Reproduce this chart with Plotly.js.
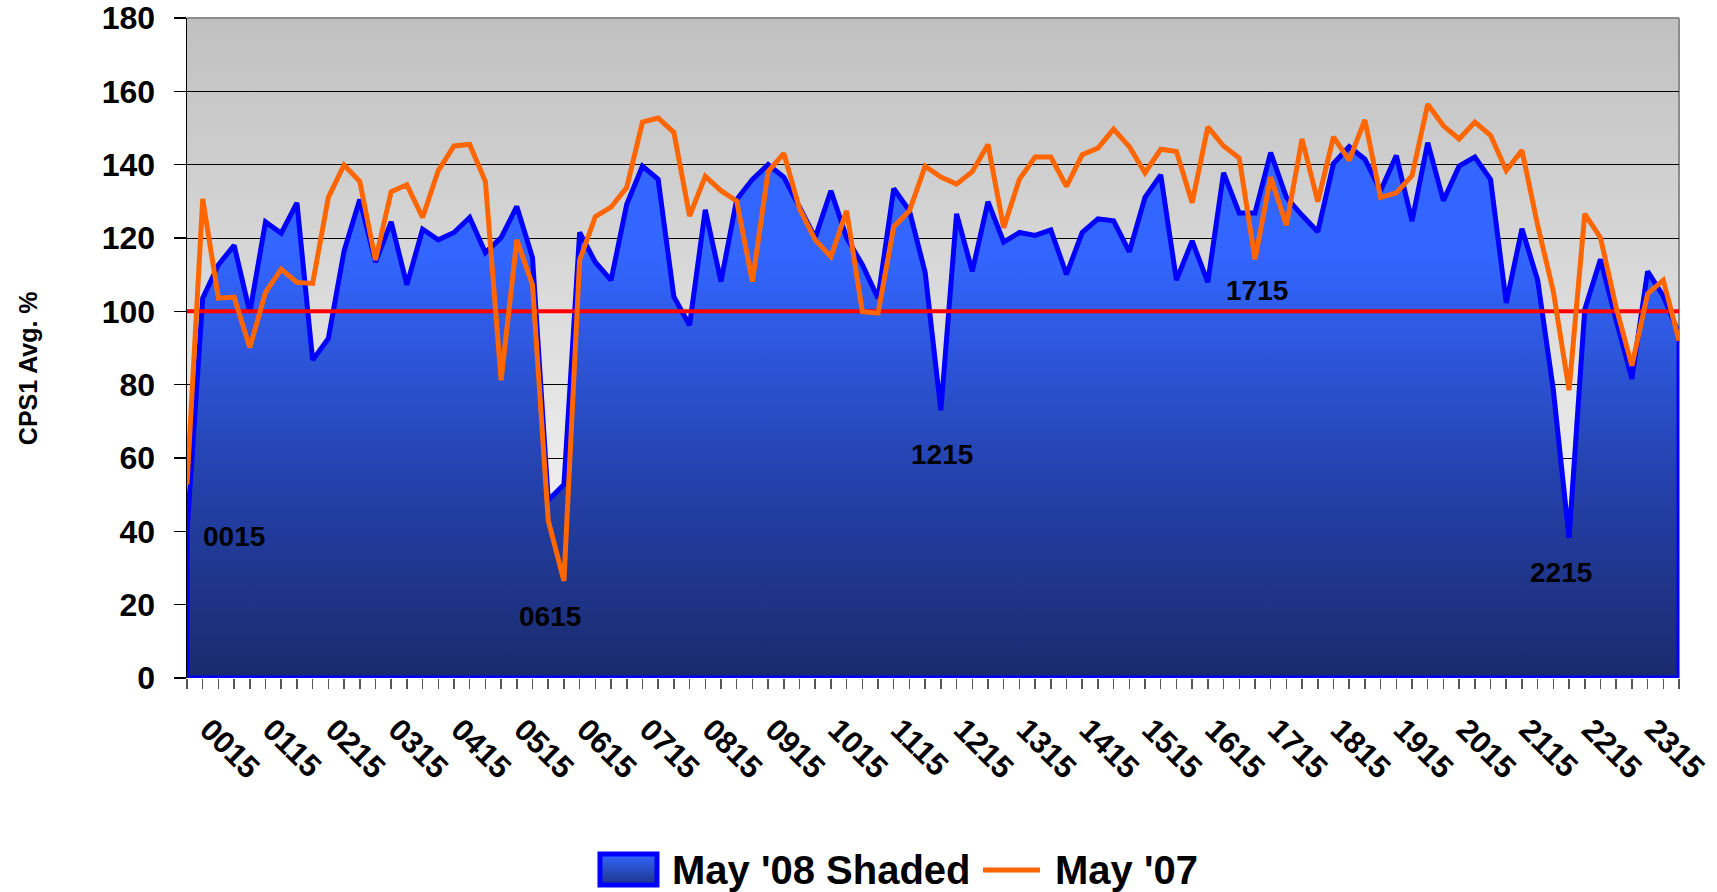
<!DOCTYPE html>
<html>
<head>
<meta charset="utf-8">
<script src="https://cdn.plot.ly/plotly-3.0.1.min.js"></script>
<style>
  html, body { margin: 0; padding: 0; background: #ffffff; }
  #chart { width: 1717px; height: 892px; }
</style>
</head>
<body>
<div id="chart"></div>
<script>
// ---- Data (15-minute intervals, first slot = 0015) ----
const hourLabels = ['0015','0115','0215','0315','0415','0515','0615','0715','0815','0915','1015','1115',
                    '1215','1315','1415','1515','1615','1715','1815','1915','2015','2115','2215','2315'];

const may08 = [40, 103.6, 112.7, 118.0, 99.7, 124.4, 121.3, 129.6, 86.7, 92.6, 116.4, 130.5,
  113.4, 124.4, 107.2, 122.4, 119.5, 121.5, 125.6, 116.0, 120.1, 128.6, 114.6, 48.5,
  52.8, 121.5, 113.4, 108.5, 129.2, 139.6, 136.0, 104.0, 96.2, 127.7, 108.1, 130.5,
  136.0, 140.0, 136.6, 128.4, 120.1, 132.9, 120.1, 112.7, 103.6, 133.5, 127.4, 110.6,
  73.0, 126.6, 110.9, 129.9, 118.9, 121.5, 120.7, 122.2, 110.1, 121.5, 125.2, 124.7,
  116.2, 131.1, 137.2, 108.5, 119.2, 107.9, 137.8, 126.8, 126.8, 143.3, 131.1, 126.2,
  121.7, 140.3, 144.9, 141.5, 132.9, 142.5, 124.6, 146.0, 130.2, 139.6, 142.1, 136.0,
  102.3, 122.5, 108.5, 78.5, 38.2, 100.5, 114.2, 97.5, 81.6, 110.9, 104.2, 93.8];

const may07 = [52.8, 130.7, 103.6, 103.9, 90.1, 105.2, 111.5, 107.9, 107.6, 131.1, 139.9, 135.4,
  114.0, 132.6, 134.5, 125.6, 138.4, 145.1, 145.5, 135.4, 81.2, 119.5, 107.2, 43.0,
  26.5, 114.0, 125.8, 128.4, 133.8, 151.6, 152.7, 148.8, 126.0, 136.8, 132.9, 130.1,
  108.1, 138.1, 143.1, 128.0, 119.5, 114.9, 127.4, 99.9, 99.5, 123.1, 127.4, 139.6,
  136.6, 134.7, 138.1, 145.5, 122.8, 136.0, 142.1, 142.1, 134.1, 142.7, 144.5, 149.7,
  144.9, 137.8, 144.2, 143.6, 129.6, 150.3, 145.1, 141.8, 114.2, 136.6, 123.5, 147.0,
  129.9, 147.6, 141.2, 152.2, 131.1, 132.3, 137.0, 156.5, 150.6, 147.0, 151.6, 148.0,
  138.4, 143.9, 123.5, 105.4, 78.5, 126.6, 120.1, 101.0, 85.2, 104.8, 108.5, 92.0];

const target = 100;
const labelsPerHour = 4;
const seriesNames = ["May '08 Shaded", "May '07"];

// ---- Derived structures ----
const idx = may08.map((_, i) => i);
const last = idx[idx.length - 1];
// closed polygon so the border runs round the whole area (like the original)
const areaX = [idx[0]].concat(idx, [last, idx[0]]);
const areaY = [0].concat(may08, [0, 0]);
const tickText = idx.map(i => (i % labelsPerHour === 0 ? hourLabels[i / labelsPerHour] : ''));

const FONT = 'Liberation Sans, Arial, sans-serif';
const BLUE_LINE = '#0000FF', ORANGE = '#FF6600';

function gradSvg(top, bottom) {
  return 'data:image/svg+xml;charset=utf-8,' + encodeURIComponent(
    '<svg xmlns="http://www.w3.org/2000/svg" width="100" height="100" preserveAspectRatio="none">' +
    '<defs><linearGradient id="g" x1="0" y1="0" x2="0" y2="1">' +
    '<stop offset="0" stop-color="' + top + '"/><stop offset="1" stop-color="' + bottom + '"/>' +
    '</linearGradient></defs><rect width="100" height="100" fill="url(#g)"/></svg>');
}

const traces = [
  {
    type: 'scatter', mode: 'lines', name: seriesNames[0],
    x: areaX, y: areaY,
    fill: 'toself',
    fillgradient: {
      type: 'vertical',
      colorscale: [[0, '#1A2A6C'], [0.5, '#2543B0'], [1, '#3366FF']],
      start: 0, stop: 115
    },
    fillcolor: '#3366FF',
    line: { color: BLUE_LINE, width: 5 },
    showlegend: false, hoverinfo: 'skip'
  },
  {
    type: 'scatter', mode: 'lines', name: 'Target',
    x: [idx[0], last], y: [target, target],
    line: { color: '#FF0000', width: 4 },
    showlegend: false, hoverinfo: 'skip'
  },
  {
    type: 'scatter', mode: 'lines', name: seriesNames[1],
    x: idx, y: may07,
    line: { color: ORANGE, width: 5 },
    showlegend: false, hoverinfo: 'skip'
  }
];

const annFont = { family: FONT, size: 28, color: '#000000', weight: 'bold' };
const legFont = { family: FONT, size: 40, color: '#000000', weight: 'bold' };
const legY = -0.291;

const layout = {
  width: 1717, height: 892,
  margin: { l: 187, r: 38, t: 18, b: 214, autoexpand: false },
  paper_bgcolor: '#FFFFFF',
  plot_bgcolor: 'rgba(0,0,0,0)',
  font: { family: FONT, color: '#000000' },
  showlegend: false,
  xaxis: {
    range: [idx[0], last],
    tickmode: 'array', tickvals: idx, ticktext: tickText,
    tickangle: 45,
    tickfont: { family: FONT, size: 31, color: '#000000', weight: 'bold' },
    ticks: 'outside', ticklen: 10, tickwidth: 1.5, tickcolor: '#555555',
    ticklabelstandoff: 10, ticklabelshift: 22,
    showgrid: false, zeroline: false, showline: false, automargin: false
  },
  yaxis: {
    range: [0, 180], dtick: 20, tick0: 0,
    tickfont: { family: FONT, size: 32, color: '#000000', weight: 'bold' },
    ticks: 'outside', ticklen: 12, tickwidth: 1.5, tickcolor: '#000000',
    ticklabelstandoff: 12,
    showgrid: true, gridcolor: '#000000', gridwidth: 1,
    zeroline: false, showline: true, linecolor: '#000000', linewidth: 1.5, automargin: false
  },
  images: [
    { source: gradSvg('#C0C0C0', '#FFFFFF'),
      xref: 'paper', yref: 'paper', x: 0, y: 1, sizex: 1, sizey: 1,
      xanchor: 'left', yanchor: 'top', sizing: 'stretch', layer: 'below' },
    { source: gradSvg('#3366FF', '#1E3388'),
      xref: 'paper', yref: 'paper', x: 0.2768, y: -0.2667, sizex: 0.0382, sizey: 0.047,
      xanchor: 'left', yanchor: 'top', sizing: 'stretch', layer: 'above' }
  ],
  shapes: [
    { type: 'line', xref: 'paper', yref: 'paper', x0: 0, x1: 1, y0: 1, y1: 1, line: { color: '#8C8C8C', width: 2 }, layer: 'above' },
    { type: 'line', xref: 'paper', yref: 'paper', x0: 1, x1: 1, y0: 0, y1: 1, line: { color: '#8C8C8C', width: 2 }, layer: 'below' },
    // legend keys
    { type: 'rect', xref: 'paper', yref: 'paper', x0: 0.2768, x1: 0.315, y0: -0.3137, y1: -0.2667,
      line: { color: BLUE_LINE, width: 5 }, fillcolor: 'rgba(0,0,0,0)', layer: 'above' },
    { type: 'line', xref: 'paper', yref: 'paper', x0: 0.5335, x1: 0.5717, y0: legY, y1: legY,
      line: { color: ORANGE, width: 5 }, layer: 'above' }
  ],
  annotations: [
    { x: 3, y: 38.5, text: '0015', showarrow: false, font: annFont },
    { x: 23.1, y: 16.8, text: '0615', showarrow: false, font: annFont },
    { x: 48.1, y: 61, text: '1215', showarrow: false, font: annFont },
    { x: 68.1, y: 105.8, text: '1715', showarrow: false, font: annFont },
    { x: 87.5, y: 28.7, text: '2215', showarrow: false, font: annFont },
    // y-axis title
    { xref: 'paper', yref: 'paper', x: -0.107, y: 0.47, text: 'CPS1 Avg. %', textangle: -90,
      showarrow: false, xanchor: 'center', yanchor: 'middle',
      font: { family: FONT, size: 25, color: '#000000', weight: 'bold' } },
    // legend labels
    { xref: 'paper', yref: 'paper', x: 0.3237, y: legY, text: seriesNames[0], showarrow: false,
      xanchor: 'left', yanchor: 'middle', font: legFont },
    { xref: 'paper', yref: 'paper', x: 0.5804, y: legY, text: seriesNames[1], showarrow: false,
      xanchor: 'left', yanchor: 'middle', font: legFont }
  ]
};

Plotly.newPlot('chart', traces, layout, { displayModeBar: false, staticPlot: true });
</script>
</body>
</html>
